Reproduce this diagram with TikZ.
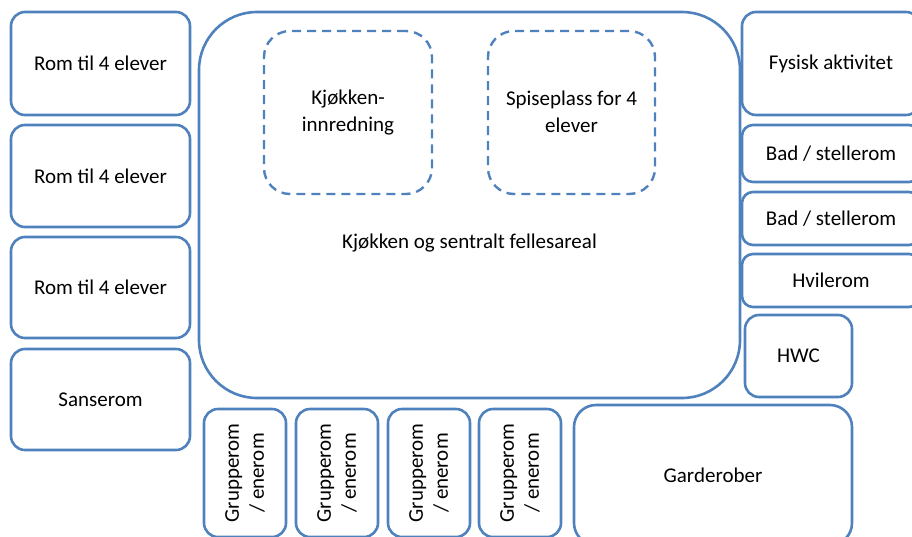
\documentclass[tikz,border=0pt]{standalone}
\usepackage{fontspec}
\setmainfont{Carlito}
\definecolor{edge}{HTML}{4F81BD}
\begin{document}
\begin{tikzpicture}[x=1pt,y=-1pt,
  room/.style={draw=edge, line width=2.6pt, rounded corners=14pt, inner sep=0pt,
    align=center, font=\fontsize{21}{27}\selectfont},
  dbox/.style={draw=edge, line width=2.4pt, dash pattern=on 9pt off 6pt, rounded corners=26pt,
    inner sep=0pt},
  lbl/.style={align=center, font=\fontsize{21}{27}\selectfont, inner sep=0pt}]
\useasboundingbox (0,0) rectangle (912,536);
\clip (0,0) rectangle (912,536);
% left column
\node[room, minimum width=179pt, minimum height=103pt] (r1) at (100.5,63.5) {Rom til 4 elever};
\node[room, minimum width=179pt, minimum height=102pt] (r2) at (100.5,176) {Rom til 4 elever};
\node[room, minimum width=179pt, minimum height=101pt] (r3) at (100.5,287.5) {Rom til 4 elever};
\node[room, minimum width=179pt, minimum height=101pt] (r4) at (100.5,399.5) {Sanserom};
% central
\node[room, rounded corners=58pt, minimum width=541pt, minimum height=386pt] (k) at (469.5,205) {};
\node[lbl] (kt) at (469.5,243) {Kjøkken og sentralt fellesareal};
\node[dbox, minimum width=168pt, minimum height=163pt] (d1) at (348,112.5) {};
\node[lbl] (d1t) at (348,113) {Kjøkken-\\innredning};
\node[dbox, minimum width=167pt, minimum height=163pt] (d2) at (571.5,112.5) {};
\node[lbl] (d2t) at (571.5,112) {Spiseplass for 4\\elever};
% right column
\node[room, minimum width=178pt, minimum height=103pt] (f) at (831,63.5) {Fysisk aktivitet};
\node[room, rounded corners=11pt, minimum width=178pt, minimum height=57pt] (b1) at (831,153.5) {Bad / stellerom};
\node[room, rounded corners=11pt, minimum width=178pt, minimum height=53pt] (b2) at (831,218.5) {Bad / stellerom};
\node[room, rounded corners=11pt, minimum width=178pt, minimum height=53pt] (h) at (831,280.5) {Hvilerom};
\node[room, minimum width=107pt, minimum height=82pt] (hwc) at (798.5,356) {HWC};
\node[room, rounded corners=22pt, minimum width=278pt, minimum height=140pt] (g) at (713,475) {Garderober};
% group rooms
\foreach \cx/\nm in {245/g1, 337/g2, 429/g3, 520/g4}{
  \node[room, rotate=90, minimum width=128pt, minimum height=82pt] (\nm) at (\cx,473) {};
  \node[lbl, rotate=90, font=\fontsize{21}{25}\selectfont] (\nm t) at (\cx,473) {Grupperom\\/ enerom};
}
\end{tikzpicture}
\end{document}
